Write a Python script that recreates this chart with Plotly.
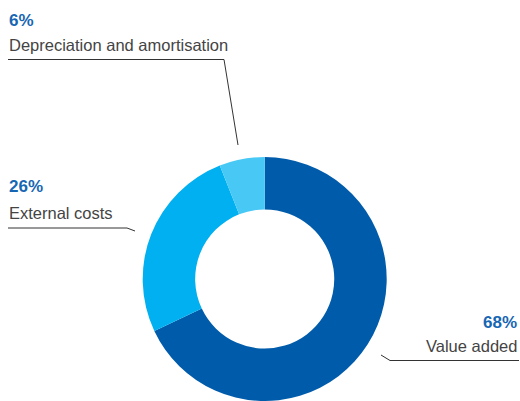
import plotly.graph_objects as go

W, H = 520, 401
labels = ["Value added", "External costs", "Depreciation and amortisation"]
values = [68, 26, 6]
pct_labels = ["68%", "26%", "6%"]
colors = ["#005CAB", "#00B0F0", "#48C8F5"]

fig = go.Figure(go.Pie(
    labels=labels, values=values, sort=False, direction="clockwise", rotation=0,
    hole=0.57, textinfo="none", hoverinfo="label+percent",
    marker=dict(colors=colors, line=dict(width=0)),
    domain=dict(x=[142.7 / W, 386.7 / W], y=[0, 1 - 157 / H]),
    showlegend=False,
))

def px(x):
    return x / W

def py(y):
    return 1 - y / H

pct_color = "#1766B3"
txt_color = "#444444"
anns = []
# Depreciation (6%)
anns.append(dict(x=px(7), y=py(20), text="<b>" + pct_labels[2] + "</b>", xanchor="left"))
anns.append(dict(x=px(7), y=py(45), text=labels[2], xanchor="left", lab=True))
# External costs (26%)
anns.append(dict(x=px(7), y=py(187), text="<b>" + pct_labels[1] + "</b>", xanchor="left"))
anns.append(dict(x=px(7), y=py(212.5), text=labels[1], xanchor="left", lab=True))
# Value added (68%)
anns.append(dict(x=px(519), y=py(322), text="<b>" + pct_labels[0] + "</b>", xanchor="right"))
anns.append(dict(x=px(519), y=py(345.5), text=labels[0], xanchor="right", lab=True))

annotations = []
for a in anns:
    lab = a.pop("lab", False)
    a.update(xref="paper", yref="paper", yanchor="middle", showarrow=False,
             font=dict(family="Liberation Sans, Arial, sans-serif",
                       size=16.5 if lab else 17,
                       color=txt_color if lab else pct_color))
    annotations.append(a)

def path(pts):
    s = "M " + " L ".join(f"{px(x)},{py(y)}" for x, y in pts)
    return s

line = dict(color="#333333", width=1)
shapes = [
    dict(type="path", xref="paper", yref="paper", path=path([(8, 59.5), (224, 59.5), (238, 145)]), line=line),
    dict(type="path", xref="paper", yref="paper", path=path([(8, 228), (127, 228), (135, 231)]), line=line),
    dict(type="path", xref="paper", yref="paper", path=path([(519, 360.5), (390, 360.5), (381, 355)]), line=line),
]

fig.update_layout(
    width=W, height=H, margin=dict(l=0, r=0, t=0, b=0),
    paper_bgcolor="white", plot_bgcolor="white",
    annotations=annotations, shapes=shapes,
)
fig.write_html("out.html", config={"displayModeBar": False},
               post_script="document.body.style.margin='0';document.body.style.overflow='hidden';")
